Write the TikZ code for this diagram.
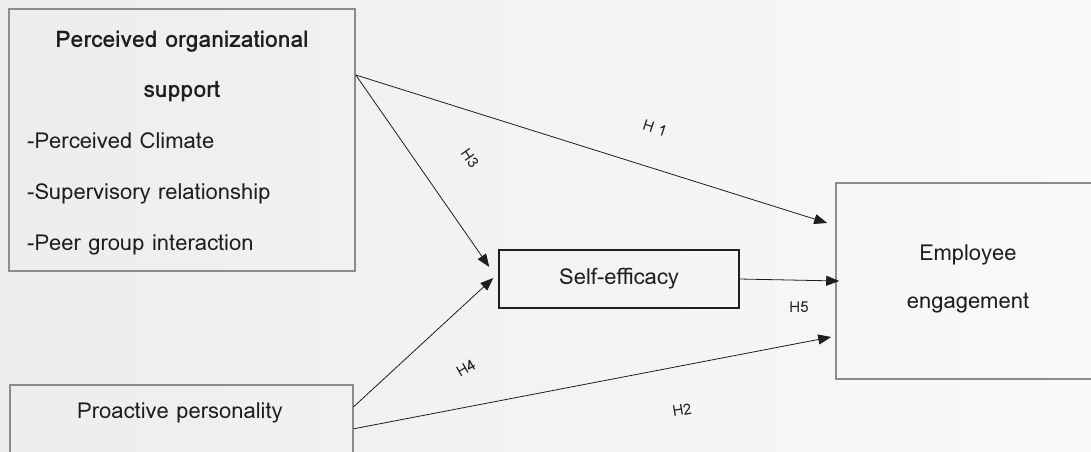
\documentclass[tikz,border=0pt]{standalone}
\usepackage{fontspec}
\setmainfont{Loma}
\usetikzlibrary{arrows.meta}

\definecolor{bgleft}{RGB}{237,237,237}
\definecolor{bgright}{RGB}{249,249,249}
\definecolor{boxgray}{RGB}{140,140,140}
\definecolor{ink}{RGB}{30,30,30}

\begin{document}
\begin{tikzpicture}[
  x=1pt, y=-1pt,
  font=\fontsize{22}{26}\selectfont, text=ink,
  varbox/.style={draw=boxgray, line width=1.6pt, inner sep=0pt},
  medbox/.style={draw=ink, line width=1.4pt, inner sep=0pt},
  txt/.style={inner sep=0pt, anchor=base},
  titletxt/.style={txt, font=\fontsize{23}{27}\selectfont\bfseries},
  itemtxt/.style={inner sep=0pt, anchor=base west},
  hlabel/.style={inner sep=0pt, font=\fontsize{15}{17}\selectfont},
  arr/.style={-{Triangle[length=13pt, width=10pt]}, line width=0.8pt, ink}
]
% background
\shade[left color=bgleft, right color=bgright] (0,0) rectangle (1091,451);
\useasboundingbox (0,0) rectangle (1091,451);

% boxes
\node[varbox, minimum width=346pt, minimum height=262pt] (pos) at (182,140) {};
\node[varbox, minimum width=343pt, minimum height=90pt, anchor=north west] (pro) at (9,384) {};
\node[medbox, minimum width=240pt, minimum height=58pt] (self) at (619,279) {Self-efficacy};
\node[varbox, minimum width=264pt, minimum height=196pt] (emp) at (968,281) {};

% texts
\node[titletxt] (pos1) at (182,47) {Perceived organizational};
\node[titletxt] (pos2) at (182,97) {support};
\node[itemtxt] (item1) at (27,148) {-Perceived Climate};
\node[itemtxt] (item2) at (27,199) {-Supervisory relationship};
\node[itemtxt] (item3) at (27,250) {-Peer group interaction};
\node (protxt) at (180,413) {Proactive personality};
\node[txt] (emp1) at (968,260) {Employee};
\node[txt] (emp2) at (968,308) {engagement};

% paths
\draw[arr] ([yshift=65pt]pos.east) -- ([xshift=-8pt, yshift=58pt]emp.west);
\draw[arr] ([yshift=65pt]pos.east) -- ([xshift=-9pt, yshift=12pt]self.west);
\draw[arr] ([yshift=23pt]pro.east) -- ([xshift=-5pt, yshift=1pt]self.west);
\draw[arr] ([yshift=1pt]pro.east) -- ([xshift=-4pt, yshift=-56pt]emp.west);
\draw[arr] (self.east) -- ([xshift=4pt]emp.west);

% hypothesis labels
\node[hlabel, rotate=-18] (h1) at (655,128) {H 1};
\node[hlabel, rotate=-55] (h3) at (470,158) {H3};
\node[hlabel, rotate=30] (h4) at (466,368) {H4};
\node[hlabel, rotate=10] (h2) at (682,410) {H2};
\node[hlabel] (h5) at (799,307) {H5};
\end{tikzpicture}
\end{document}
